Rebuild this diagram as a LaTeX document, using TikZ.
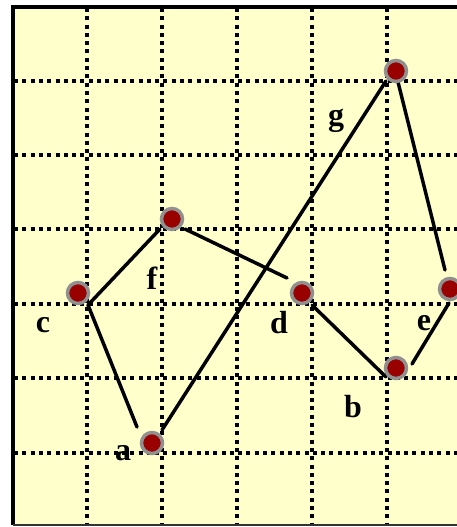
\documentclass[tikz,border=0pt]{standalone}
\usepackage{fontspec}
\setmainfont{Liberation Serif}
\definecolor{bgyellow}{HTML}{FFFFCC}
\definecolor{dotred}{HTML}{990000}
\definecolor{dotgray}{HTML}{909090}
\tikzset{
  gridline/.style={line width=3.5pt, dash pattern=on 4pt off 4.3pt},
  edge/.style={line width=3.5pt, line cap=round},
  vertex/.style={circle, fill=dotred, draw=dotgray, line width=3.5pt, minimum size=21pt, inner sep=0pt},
  lab/.style={font=\fontsize{32}{32}\selectfont\bfseries, inner sep=0pt},
}
\begin{document}
\begin{tikzpicture}[x=1pt,y=-1pt]
\useasboundingbox (0,0) rectangle (457,527);
\fill[bgyellow] (13,7) rectangle (460,525);
% grid
\foreach \gx in {87,162,237,312,387} \draw[gridline] (\gx,8) -- (\gx,525);
\foreach \gy in {81,155,229,304,378,453} \draw[gridline] (14,\gy) -- (460,\gy);
% frame
\draw[line width=3.5pt] (13,525) -- (13,7) -- (460,7);
\draw[line width=1.5pt, black!80] (13,525) -- (460,525);
% edge end points
\coordinate (c1) at (88,305);
\coordinate (f1) at (160,229);
\coordinate (f2) at (185,229);
\coordinate (d1) at (287,278);
\coordinate (a1) at (137,427);
\coordinate (a2) at (162,430);
\coordinate (g1) at (386,81);
\coordinate (g2) at (398,82);
\coordinate (e1) at (445,270);
\coordinate (d2) at (312,305);
\coordinate (b1) at (386,377);
\coordinate (b2) at (412,364);
\coordinate (e2) at (449,303);
% edges
\draw[edge] (c1) -- (f1);
\draw[edge] (f2) -- (d1);
\draw[edge] (c1) -- (a1);
\draw[edge] (a2) -- (g1);
\draw[edge] (g2) -- (e1);
\draw[edge] (d2) -- (b1);
\draw[edge] (b2) -- (e2);
% vertices
\node[vertex] (vg) at (396,71) {};
\node[vertex] (vf) at (172,219) {};
\node[vertex] (vc) at (78,293) {};
\node[vertex] (va) at (152,443) {};
\node[vertex] (vd) at (302,293) {};
\node[vertex] (vb) at (396,368) {};
\node[vertex] (ve) at (450,289) {};
% labels
\node[lab] (lg) at (336,121) {g};
\node[lab] (lf) at (152,278) {f};
\node[lab] (lc) at (43,325) {c};
\node[lab] (la) at (123,453) {a};
\node[lab] (ld) at (279,323) {d};
\node[lab] (le) at (424,323) {e};
\node[lab] (lb) at (353,407) {b};
\end{tikzpicture}
\end{document}
